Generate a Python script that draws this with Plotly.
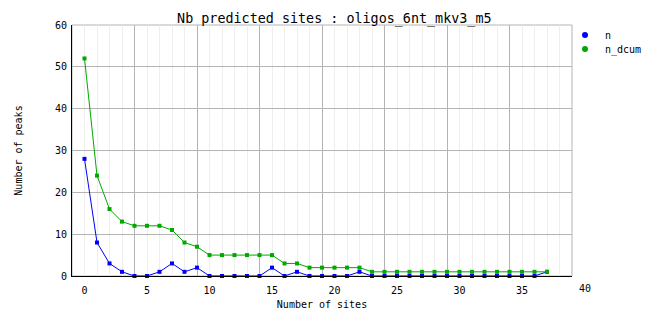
import plotly.graph_objects as go

sites = list(range(0, 38))
n = [28, 8, 3, 1, 0, 0, 1, 3, 1, 2, 0, 0, 0, 0, 0, 2, 0, 1, 0, 0,
     0, 0, 1, 0, 0, 0, 0, 0, 0, 0, 0, 0, 0, 0, 0, 0, 0, 1]
n_dcum = [52, 24, 16, 13, 12, 12, 12, 11, 8, 7, 5, 5, 5, 5, 5, 5, 3, 3, 2, 2,
          2, 2, 2, 1, 1, 1, 1, 1, 1, 1, 1, 1, 1, 1, 1, 1, 1, 1]
x_ticks = [0, 5, 10, 15, 20, 25, 30, 35, 40]
y_ticks = [0, 10, 20, 30, 40, 50, 60]
X_RANGE = [-1, 39]

BLUE = "#0000ff"
GREEN = "#00a800"
FONT = "DejaVu Sans Mono"

fig = go.Figure()
for name, vals, col in [("n", n, BLUE), ("n_dcum", n_dcum, GREEN)]:
    fig.add_trace(go.Scatter(x=sites, y=vals, mode="lines+markers", showlegend=False,
                             line=dict(color=col, width=1),
                             marker=dict(symbol="square", size=4, color=col),
                             cliponaxis=False))
for name, col, lg in [("n", BLUE, "legend"), ("n_dcum", GREEN, "legend2")]:
    fig.add_trace(go.Scatter(x=[None], y=[None], mode="markers", name=name, legend=lg,
                             marker=dict(symbol="circle", size=6, color=col)))

# overlay axis used only for major vertical grid lines
fig.add_trace(go.Scatter(x=[None], y=[None], xaxis="x2", showlegend=False))

leg_common = dict(xref="container", yref="container", xanchor="left", yanchor="middle",
                  bgcolor="rgba(0,0,0,0)", font=dict(size=10), itemwidth=30,
                  borderwidth=0)

# tick labels beyond the visible range (the last label sits past the frame)
extra = [v for v in x_ticks if v > X_RANGE[1]]
annotations = [dict(text=str(v), x=(v - X_RANGE[0]) / (X_RANGE[1] - X_RANGE[0]), y=0,
                    xref="paper", yref="paper", yanchor="top", xanchor="center",
                    yshift=-5, showarrow=False, font=dict(size=10)) for v in extra]

fig.update_layout(
    width=662, height=328,
    margin=dict(l=72, r=90, t=25, b=52, autoexpand=False),
    paper_bgcolor="white", plot_bgcolor="white",
    font=dict(family=FONT, size=10, color="black"),
    title=dict(text="Nb predicted sites : oligos_6nt_mkv3_m5", x=0.505, xref="container",
               xanchor="center", y=1 - 18 / 328, yanchor="middle",
               font=dict(family=FONT, size=13.4, color="black")),
    xaxis=dict(range=X_RANGE, tickvals=x_ticks, ticktext=[str(v) for v in x_ticks],
               showgrid=False, zeroline=False, showline=True, linecolor="black",
               linewidth=1, ticks="", ticklabelstandoff=5,
               minor=dict(dtick=1, tick0=0, showgrid=True, gridcolor="#eeeeee", gridwidth=1),
               title=dict(text="Number of sites", standoff=5, font=dict(size=10))),
    xaxis2=dict(range=X_RANGE, overlaying="x", tick0=4, dtick=5, showgrid=True,
                gridcolor="#b4b4b4", gridwidth=1, showticklabels=False, zeroline=False,
                showline=False, ticks=""),
    yaxis=dict(range=[0, 60], tickvals=y_ticks, showgrid=True, gridcolor="#b4b4b4",
               gridwidth=1, zeroline=False, showline=True, linecolor="black", linewidth=1,
               ticks="", ticklabelstandoff=2,
               title=dict(text="Number of peaks", standoff=30, font=dict(size=10))),
    legend=dict(x=565 / 662, y=1 - 35 / 328, **leg_common),
    legend2=dict(x=565 / 662, y=1 - 49 / 328, **leg_common),
    annotations=annotations,
    shapes=[dict(type="rect", xref="paper", yref="paper", x0=0, x1=1, y0=0, y1=1,
                 line=dict(color="#b4b4b4", width=1), layer="below")],
)
fig.write_html("out.html")
